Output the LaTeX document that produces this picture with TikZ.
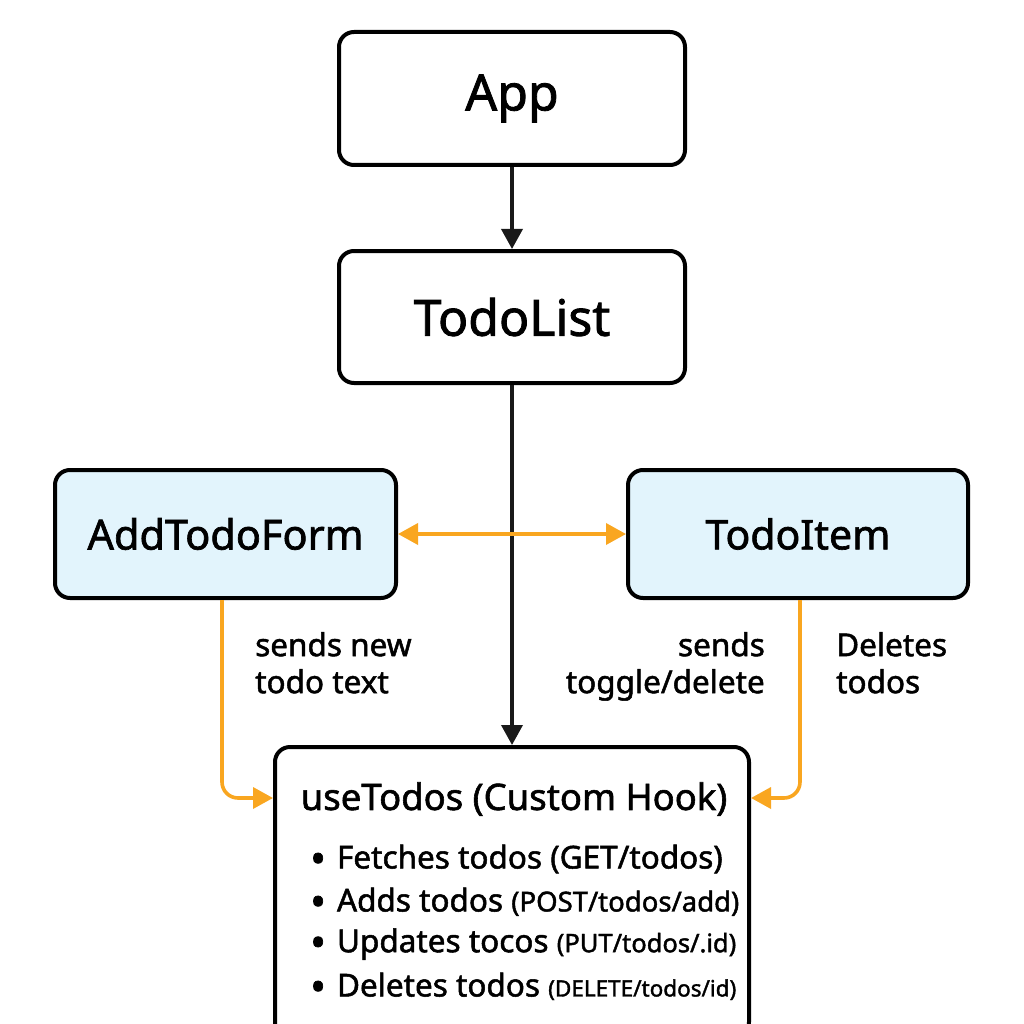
\documentclass[tikz,border=0pt]{standalone}
\usepackage{fontspec}
\setmainfont{Noto Sans}[FakeBold=1.6]
\usetikzlibrary{arrows.meta,positioning}
\definecolor{boxblue}{HTML}{E2F4FC}
\definecolor{arrorange}{HTML}{F9A620}
\tikzset{
  box/.style={draw=black, line width=4pt, rounded corners=15pt, fill=white, inner sep=0pt},
  bluebox/.style={box, fill=boxblue},
  blk/.style={draw=black!90, line width=3.6pt, -{Triangle[length=20pt,width=21pt]}},
  org/.style={draw=arrorange, line width=3.6pt, rounded corners=16pt},
  otip/.tip={Triangle[length=20pt,width=21pt]},
  lbl/.style={font=\fontsize{31.5}{37}\selectfont, inner sep=0pt},
  item/.style={inner sep=0pt, anchor=west},
}
\newcommand{\parsz}[2]{{\fontsize{#1}{30}\selectfont #2}}
\newcommand{\bigbul}{\raisebox{-5pt}{\fontsize{42}{30}\selectfont\textbullet}\hspace{11pt}}
\begin{document}
\begin{tikzpicture}[x=1pt,y=-1pt]
\useasboundingbox (0,0) rectangle (1024,1024);
\fill[white] (0,0) rectangle (1024,1024);
% boxes
\node[box, minimum width=346pt, minimum height=133pt, font=\fontsize{50}{54}\selectfont] (app) at (512,98.5) {App};
\node[box, minimum width=346pt, minimum height=132pt, font=\fontsize{50}{54}\selectfont] (todolist) at (512,317) {TodoList};
\node[bluebox, minimum width=341pt, minimum height=128pt, font=\fontsize{41.5}{44}\selectfont] (form) at (225.5,534) {AddTodoForm};
\node[bluebox, minimum width=340pt, minimum height=128pt, font=\fontsize{41}{44}\selectfont] (item) at (798,534) {TodoItem};
\node[box, minimum width=474pt, minimum height=290pt, anchor=north] (hook) at (512,745) {};
% hook contents
\node[font=\fontsize{36.5}{40}\selectfont, inner sep=0pt] (title) at (514,799) {useTodos (Custom Hook)};
\node[item, font=\fontsize{31.5}{36}\selectfont] (b1) at (310,859) {\bigbul Fetches todos (GET/todos)};
\node[item, font=\fontsize{31.5}{36}\selectfont] (b2) at (310,902) {\bigbul Adds todos \parsz{27.5}{(POST/todos/add)}};
\node[item, font=\fontsize{31.5}{36}\selectfont] (b3) at (310,944) {\bigbul Updates tocos \parsz{25.5}{(PUT/todos/.id)}};
\node[item, font=\fontsize{31.5}{36}\selectfont] (b4) at (310,987) {\bigbul Deletes todos \parsz{22.5}{(DELETE/todos/id)}};
% black arrows
\draw[blk] (app.south) -- (todolist.north);
\draw[blk] (todolist.south) -- (hook.north);
% orange arrows
\draw[org, {otip}-{otip}] (form.east) -- (item.west);
\coordinate (lc) at (222,798);
\coordinate (rc) at (800,798);
\draw[org, -{otip}] (form.south -| lc) -- (lc) -- (hook.west |- lc);
\draw[org, -{otip}] (item.south -| rc) -- (rc) -- (hook.east |- rc);
% labels
\node[lbl, align=left, anchor=north west] (l1) at (255,632) {sends new\\todo text};
\node[lbl, align=right, anchor=north east] (l2) at (765,632) {sends\\toggle/delete};
\node[lbl, align=left, anchor=north west] (l3) at (836,632) {Deletes\\todos};
\end{tikzpicture}
\end{document}
